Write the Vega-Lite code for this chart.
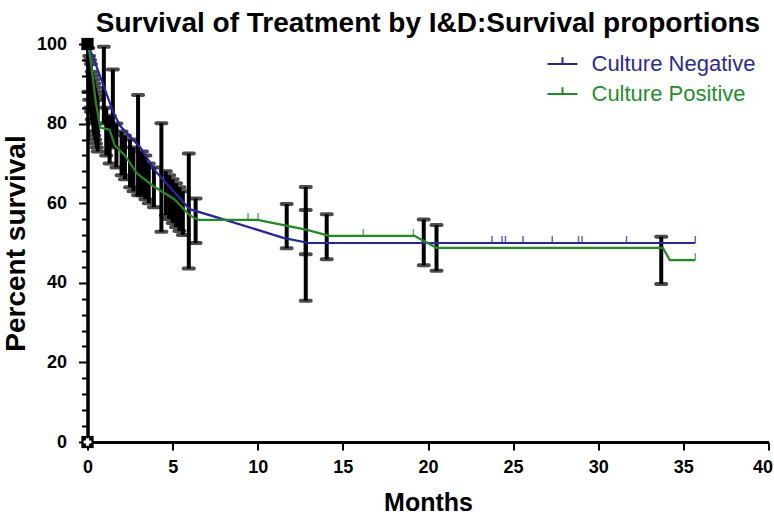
{
  "$schema": "https://vega.github.io/schema/vega-lite/v6.json",
  "width": 681,
  "height": 398,
  "autosize": {"type": "none"},
  "padding": {"left": 87.5, "top": 44, "right": 5.5, "bottom": 78},
  "background": "white",
  "title": {"text": "Survival of Treatment by I&D:Survival proportions", "fontSize": 28, "font": "Liberation Sans", "fontWeight": "bold", "color": "black", "anchor": "middle", "frame": "group", "offset": 0, "dy": 25, "baseline": "alphabetic"},
  "config": {
    "view": {"stroke": null},
    "axis": {"domainColor": "black", "domainWidth": 3, "tickColor": "black", "tickWidth": 2, "labelFont": "Liberation Sans", "labelFontWeight": "bold", "labelFontSize": 18, "labelColor": "black", "titleFont": "Liberation Sans", "titleFontWeight": "bold", "titleFontSize": 25, "titleColor": "black", "grid": false}
  },
  "datasets": {
    "curves": [
      {"group": "Culture Negative", "month": 0, "pct": 100},
      {"group": "Culture Negative", "month": 0.3, "pct": 97},
      {"group": "Culture Negative", "month": 1.5, "pct": 83},
      {"group": "Culture Negative", "month": 1.9, "pct": 79.5},
      {"group": "Culture Negative", "month": 3.1, "pct": 74},
      {"group": "Culture Negative", "month": 4.0, "pct": 68},
      {"group": "Culture Negative", "month": 6.0, "pct": 58.5},
      {"group": "Culture Negative", "month": 7.8, "pct": 56.2},
      {"group": "Culture Negative", "month": 11.5, "pct": 51.3},
      {"group": "Culture Negative", "month": 13.0, "pct": 50},
      {"group": "Culture Negative", "month": 35.7, "pct": 50},
      {"group": "Culture Positive", "month": 0, "pct": 100},
      {"group": "Culture Positive", "month": 0.15, "pct": 97},
      {"group": "Culture Positive", "month": 0.5, "pct": 85},
      {"group": "Culture Positive", "month": 0.75, "pct": 79},
      {"group": "Culture Positive", "month": 1.3, "pct": 78.5},
      {"group": "Culture Positive", "month": 1.6, "pct": 74.5},
      {"group": "Culture Positive", "month": 2.2, "pct": 72},
      {"group": "Culture Positive", "month": 2.9, "pct": 67.5},
      {"group": "Culture Positive", "month": 3.9, "pct": 64.2},
      {"group": "Culture Positive", "month": 5.1, "pct": 61},
      {"group": "Culture Positive", "month": 6.0, "pct": 57},
      {"group": "Culture Positive", "month": 6.5, "pct": 55.8},
      {"group": "Culture Positive", "month": 10.0, "pct": 55.8},
      {"group": "Culture Positive", "month": 12.9, "pct": 53.3},
      {"group": "Culture Positive", "month": 14.2, "pct": 51.8},
      {"group": "Culture Positive", "month": 19.2, "pct": 51.8},
      {"group": "Culture Positive", "month": 20.5, "pct": 48.8},
      {"group": "Culture Positive", "month": 33.8, "pct": 48.8},
      {"group": "Culture Positive", "month": 34.2, "pct": 45.7},
      {"group": "Culture Positive", "month": 35.7, "pct": 45.7}
    ],
    "cens": [
      {"group": "Culture Negative", "month": 23.76, "pct": 50},
      {"group": "Culture Negative", "month": 24.35, "pct": 50},
      {"group": "Culture Negative", "month": 24.55, "pct": 50},
      {"group": "Culture Negative", "month": 25.58, "pct": 50},
      {"group": "Culture Negative", "month": 27.3, "pct": 50},
      {"group": "Culture Negative", "month": 28.84, "pct": 50},
      {"group": "Culture Negative", "month": 29.05, "pct": 50},
      {"group": "Culture Negative", "month": 31.66, "pct": 50},
      {"group": "Culture Negative", "month": 35.7, "pct": 50},
      {"group": "Culture Positive", "month": 9.43, "pct": 55.8},
      {"group": "Culture Positive", "month": 10.02, "pct": 55.8},
      {"group": "Culture Positive", "month": 16.2, "pct": 51.8},
      {"group": "Culture Positive", "month": 19.14, "pct": 51.8},
      {"group": "Culture Positive", "month": 35.7, "pct": 45.7}
    ],
    "err": [
      {"month": 0.05, "lo": 88, "hi": 99},
      {"month": 0.1, "lo": 86, "hi": 97},
      {"month": 0.15, "lo": 84, "hi": 96},
      {"month": 0.2, "lo": 83, "hi": 95},
      {"month": 0.25, "lo": 81, "hi": 93},
      {"month": 0.3, "lo": 80, "hi": 92},
      {"month": 0.35, "lo": 78, "hi": 91},
      {"month": 0.4, "lo": 77, "hi": 90},
      {"month": 0.45, "lo": 76, "hi": 89},
      {"month": 0.5, "lo": 75, "hi": 88},
      {"month": 0.55, "lo": 74, "hi": 87},
      {"month": 0.6, "lo": 73, "hi": 86},
      {"month": 0.96, "lo": 80, "hi": 99.3},
      {"month": 1.1, "lo": 72, "hi": 84},
      {"month": 1.3, "lo": 70, "hi": 82},
      {"month": 1.49, "lo": 74, "hi": 93.6},
      {"month": 1.7, "lo": 69, "hi": 80},
      {"month": 2.0, "lo": 67, "hi": 78},
      {"month": 2.2, "lo": 66, "hi": 77},
      {"month": 2.5, "lo": 64, "hi": 76},
      {"month": 2.7, "lo": 63, "hi": 74},
      {"month": 2.97, "lo": 62, "hi": 87.2},
      {"month": 3.2, "lo": 62, "hi": 73},
      {"month": 3.4, "lo": 61, "hi": 72},
      {"month": 3.6, "lo": 60, "hi": 70},
      {"month": 3.9, "lo": 59, "hi": 69},
      {"month": 4.34, "lo": 52.8, "hi": 80.1},
      {"month": 4.6, "lo": 57, "hi": 68},
      {"month": 4.8, "lo": 56, "hi": 67},
      {"month": 5.0, "lo": 55, "hi": 66},
      {"month": 5.2, "lo": 54, "hi": 65},
      {"month": 5.4, "lo": 53, "hi": 64},
      {"month": 5.6, "lo": 52, "hi": 63},
      {"month": 5.95, "lo": 43.6, "hi": 72.5},
      {"month": 6.35, "lo": 50, "hi": 61.2},
      {"month": 11.7, "lo": 48.7, "hi": 59.8},
      {"month": 12.82, "lo": 35.5, "hi": 64.1},
      {"month": 12.82, "lo": 47.2, "hi": 58.3},
      {"month": 14.05, "lo": 45.9, "hi": 57.2},
      {"month": 19.75, "lo": 44.4, "hi": 55.9},
      {"month": 20.5, "lo": 43.0, "hi": 54.5},
      {"month": 33.7, "lo": 39.7, "hi": 51.6}
    ],
    "marks": [
      {"month": 0, "pct": 100},
      {"month": 0, "pct": 0}
    ],
    "cross": [
      {"month": 0, "pct": 0}
    ]
  },
  "layer": [
    {
      "data": {"name": "err"},
      "mark": {"type": "rule", "color": "black", "strokeWidth": 4},
      "encoding": {
        "x": {"field": "month", "type": "quantitative", "scale": {"domain": [0, 40], "nice": false},
          "axis": {"values": [0, 5, 10, 15, 20, 25, 30, 35, 40], "tickSize": 8, "labelPadding": 8, "title": "Months", "titlePadding": 14, "labelFlush": false,
            "labelOffset": {"condition": {"test": "datum.value === 40", "value": -6}, "value": 0}}},
        "y": {"field": "lo", "type": "quantitative", "scale": {"domain": [0, 100], "nice": false},
          "axis": {"orient": "left", "values": [4, 8, 12, 16, 24, 28, 32, 36, 44, 48, 52, 56, 64, 68, 72, 76, 84, 88, 92, 96], "labels": false, "tickSize": 6, "title": null}},
        "y2": {"field": "hi"}
      }
    },
    {
      "data": {"name": "err"},
      "transform": [{"fold": ["lo", "hi"], "as": ["end", "val"]}],
      "mark": {"type": "tick", "orient": "horizontal", "color": "black", "thickness": 4, "size": 14, "cornerRadius": 2},
      "encoding": {
        "x": {"field": "month", "type": "quantitative"},
        "y": {"field": "val", "type": "quantitative", "axis": null}
      }
    },
    {
      "data": {"name": "curves"},
      "mark": {"type": "line", "strokeWidth": 2.2},
      "encoding": {
        "x": {"field": "month", "type": "quantitative"},
        "y": {"field": "pct", "type": "quantitative",
          "axis": {"orient": "left", "values": [0, 20, 40, 60, 80, 100], "tickSize": 9, "labelPadding": 12, "title": "Percent survival", "titleFontSize": 28, "titlePadding": 6}},
        "color": {"field": "group", "type": "nominal",
          "scale": {"domain": ["Culture Negative", "Culture Positive"], "range": ["#2424a8", "#1f8c1f"]},
          "legend": {"title": null, "orient": "none", "legendX": 459, "legendY": 4, "symbolType": "M-1,0H1M0,0V-0.45", "symbolSize": 900, "symbolStrokeWidth": 2, "labelFontSize": 22, "labelFont": "Liberation Sans", "labelOffset": 13, "labelLimit": 400, "rowPadding": 3, "padding": 0,
            "encode": {"labels": {"update": {"fill": {"signal": "datum.value === 'Culture Negative' ? '#2a2a9c' : '#23902a'"}}}}}}
      }
    },
    {
      "data": {"name": "cens"},
      "mark": {"type": "tick", "orient": "vertical", "thickness": 1.5, "size": 7, "yOffset": -3.5},
      "encoding": {
        "x": {"field": "month", "type": "quantitative"},
        "y": {"field": "pct", "type": "quantitative", "axis": null},
        "color": {"field": "group", "type": "nominal", "legend": null}
      }
    },
    {
      "data": {"name": "marks"},
      "mark": {"type": "point", "shape": "square", "filled": true, "color": "black", "size": 150, "opacity": 1},
      "encoding": {
        "x": {"field": "month", "type": "quantitative"},
        "y": {"field": "pct", "type": "quantitative", "axis": null}
      }
    },
    {
      "data": {"name": "cross"},
      "mark": {"type": "point", "shape": "cross", "filled": true, "color": "white", "size": 60, "opacity": 1},
      "encoding": {
        "x": {"field": "month", "type": "quantitative"},
        "y": {"field": "pct", "type": "quantitative", "axis": null}
      }
    }
  ],
  "resolve": {"axis": {"y": "independent"}}
}
